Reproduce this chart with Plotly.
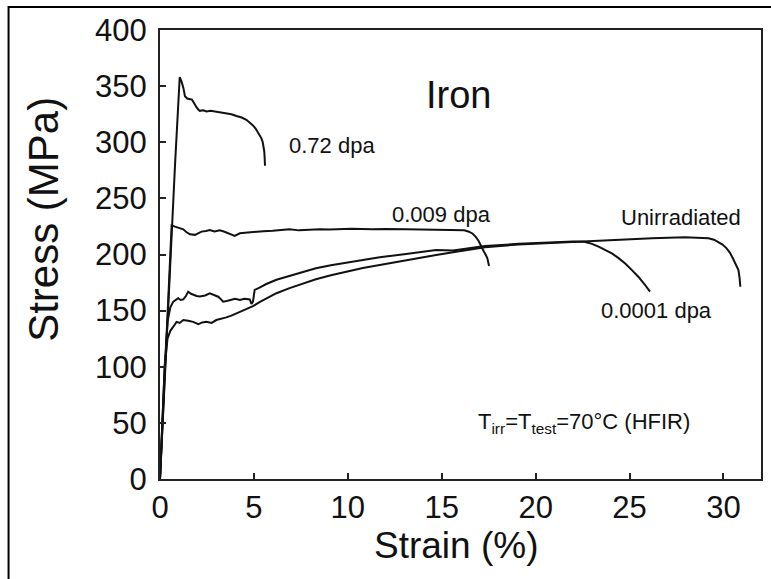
import plotly.graph_objects as go

# strain (%) / stress (MPa)
dpa072_x = [0, 0.25, 0.5, 0.8, 1.05, 1.15, 1.25, 1.33, 1.45, 1.59, 1.7, 1.77, 1.86, 1.95, 2.05, 2.12, 2.3,
            2.48, 2.7, 3.0, 3.25, 3.53, 3.8, 4.07, 4.35, 4.6, 4.8, 4.95, 5.1, 5.22, 5.32, 5.4, 5.47, 5.52,
            5.55, 5.57, 5.59]
dpa072_y = [0, 90, 186, 280, 358, 354, 348, 341, 339, 338.6, 338, 336, 333, 331, 329, 328, 328.5,
            327.5, 328, 327, 326.5, 325.8, 325, 323.4, 322, 320, 317.5, 315, 312, 309, 306, 303.5, 300, 296,
            292, 287, 279]

dpa0009_x = [0, 0.2, 0.4, 0.62, 0.8, 1.0, 1.24, 1.4, 1.6, 1.86, 2.05, 2.21, 2.45, 2.65, 2.9, 3.18, 3.4,
             3.63, 3.8, 3.98, 4.25, 4.6, 4.95, 5.5, 6.0, 6.5, 6.9, 7.4, 7.8, 8.5, 9.0, 9.55, 10.2, 11.3,
             12.0, 13.1, 13.8, 14.5, 15.2, 15.9, 16.2, 16.45, 16.65, 16.8, 16.95, 17.07, 17.18, 17.25,
             17.35, 17.43, 17.52]
dpa0009_y = [0, 75, 150, 226, 224.8, 223.5, 222.4, 220, 218, 217.5, 219, 220.4, 221, 221.8, 220.5, 221.5,
             220.5, 218.9, 217.5, 216.5, 218.9, 219.5, 220.4, 220.8, 221.2, 221.8, 222.4, 221.5, 221.8,
             222.6, 222.2, 222.4, 223, 222.4, 222.8, 222.4, 222.2, 222.4, 222.3, 222, 221.5, 220.3, 218.5,
             215.9, 212.5, 208.5, 205.5, 202.5, 199.5, 196.6, 189.8]

dpa00001_x = [0, 0.12, 0.25, 0.4, 0.55, 0.71, 0.85, 0.97, 1.1, 1.24, 1.38, 1.5, 1.65, 1.77, 1.95, 2.12,
              2.4, 2.65, 2.9, 3.1, 3.25, 3.36, 3.55, 3.72, 4.0, 4.25, 4.5, 4.78, 4.87, 4.95, 5.04, 5.3,
              5.66, 6.2, 6.9, 7.6, 8.3, 9.1, 9.9, 10.8, 11.7, 13.1, 14.7, 15.6, 17.3, 19.1, 20.9, 22.0,
              22.6, 23.0, 23.35, 23.7, 24.06, 24.4, 24.77, 25.1, 25.48, 25.8, 26.09]
dpa00001_y = [0, 50, 100, 140, 153, 158, 160, 161, 159.5, 160, 163, 166.9, 165, 164, 163, 162.5,
              163.5, 165.4, 164, 162.4, 160, 158, 158.5, 159.5, 160.5, 159.5, 160.5, 160, 156, 158, 168.4, 170.5,
              173.7, 177.5, 180.8, 184.5, 187.7, 190.5, 192.7, 195.2, 197.5, 200.5, 204, 203.5, 207.5, 209.5,
              211, 211.5, 211.4, 209.5, 207, 204.3, 201, 197, 192, 186.5, 180, 173.5, 166.9]

unirr_x = [0, 0.12, 0.25, 0.4, 0.55, 0.71, 0.88, 1.05, 1.24, 1.5, 1.77, 2.04, 2.25, 2.47, 2.75, 3.0, 3.25,
           3.53, 3.8, 4.07, 4.35, 4.6, 4.95, 5.3, 5.66, 6.2, 6.9, 7.6, 8.3, 9.1, 9.9, 10.8, 11.7, 13.1,
           14.7, 15.6, 17.3, 19.1, 20.9, 22.6, 24.4, 26.2, 27.95, 28.7, 29.2, 29.5, 29.7, 29.95, 30.17,
           30.35, 30.5, 30.65, 30.8, 30.86, 30.9]
unirr_y = [0, 50, 100, 125, 132, 135.7, 140, 139, 141.6, 141, 140, 138, 139.5, 140, 139, 141.6, 142.5,
           144, 145.5, 147.6, 149.5, 151, 154, 157.5, 161, 165.5, 170, 174, 178, 181.5, 184.7, 188, 190.6,
           195, 199.5, 202, 206.5, 209, 210.5, 211.4, 213, 214.4, 215.3, 215, 214.4, 213.2, 211.4, 208.8,
           205.5, 201.5, 196.6, 192, 186.2, 179, 171.3]

curves = [
    (dpa072_x, dpa072_y, "0.72 dpa"),
    (dpa0009_x, dpa0009_y, "0.009 dpa"),
    (dpa00001_x, dpa00001_y, "0.0001 dpa"),
    (unirr_x, unirr_y, "Unirradiated"),
]

# curve labels: (text, x, y)
curve_labels = [
    ("0.72 dpa", 9.18, 296.7),
    ("0.009 dpa", 14.97, 236),
    ("Unirradiated", 27.76, 233.4),
    ("0.0001 dpa", 26.43, 149.7),
]

x_ticks = [0, 5, 10, 15, 20, 25, 30]
y_ticks = [0, 50, 100, 150, 200, 250, 300, 350, 400]

FONT = "Arial, Liberation Sans, sans-serif"

fig = go.Figure()

for cx, cy, name in curves:
    fig.add_trace(go.Scatter(x=cx, y=cy, mode="lines", name=name,
                             line=dict(color="#111111", width=2), showlegend=False))

for txt, lx, ly in curve_labels:
    fig.add_annotation(x=lx, y=ly, text=txt, showarrow=False, xanchor="center", yanchor="middle",
                       font=dict(size=22, color="#111111", family=FONT))

fig.add_annotation(x=15.9, y=342, text="Iron", showarrow=False, xanchor="center", yanchor="middle",
                   font=dict(size=38, color="#111111", family=FONT))
fig.add_annotation(x=22.6, y=50, text="T<sub>irr</sub>=T<sub>test</sub>=70°C (HFIR)", showarrow=False,
                   xanchor="center", yanchor="middle",
                   font=dict(size=22, color="#111111", family=FONT))

# axis titles
fig.add_annotation(xref="paper", yref="paper", x=0.4925, y=-0.149, text="Strain (%)", showarrow=False,
                   xanchor="center", yanchor="middle",
                   font=dict(size=37, color="#111111", family=FONT))
fig.add_annotation(xref="paper", yref="paper", x=-0.195, y=0.579, text="Stress (MPa)", showarrow=False,
                   textangle=-90, xanchor="center", yanchor="middle",
                   font=dict(size=42, color="#111111", family=FONT))

# outer frame of the picture (cut at right and bottom)
fig.add_shape(type="rect", xref="paper", yref="paper", x0=-0.252, x1=1.1, y0=-0.4, y1=1.0512,
              line=dict(color="black", width=2))

fig.update_xaxes(range=[0, 32], tickvals=x_ticks, ticks="inside", ticklen=6, tickwidth=1.5,
                 tickcolor="#222", showline=True, linecolor="#222", linewidth=2, mirror=True,
                 showgrid=False, zeroline=False,
                 tickfont=dict(size=31, color="#111111", family=FONT))
fig.update_yaxes(range=[0, 400], tickvals=y_ticks, ticks="inside", ticklen=6, tickwidth=1.5,
                 tickcolor="#222", showline=True, linecolor="#222", linewidth=2, mirror=True,
                 showgrid=False, zeroline=False, ticklabelstandoff=5,
                 tickfont=dict(size=31, color="#111111", family=FONT))

fig.update_layout(width=771, height=579, margin=dict(l=160, r=8, t=30, b=100),
                  plot_bgcolor="white", paper_bgcolor="white")

# drop the page's default body margin so the figure sits at the window's corner
fig.write_html("out.html", config={"displayModeBar": False},
               post_script="document.body.style.margin='0px';")
